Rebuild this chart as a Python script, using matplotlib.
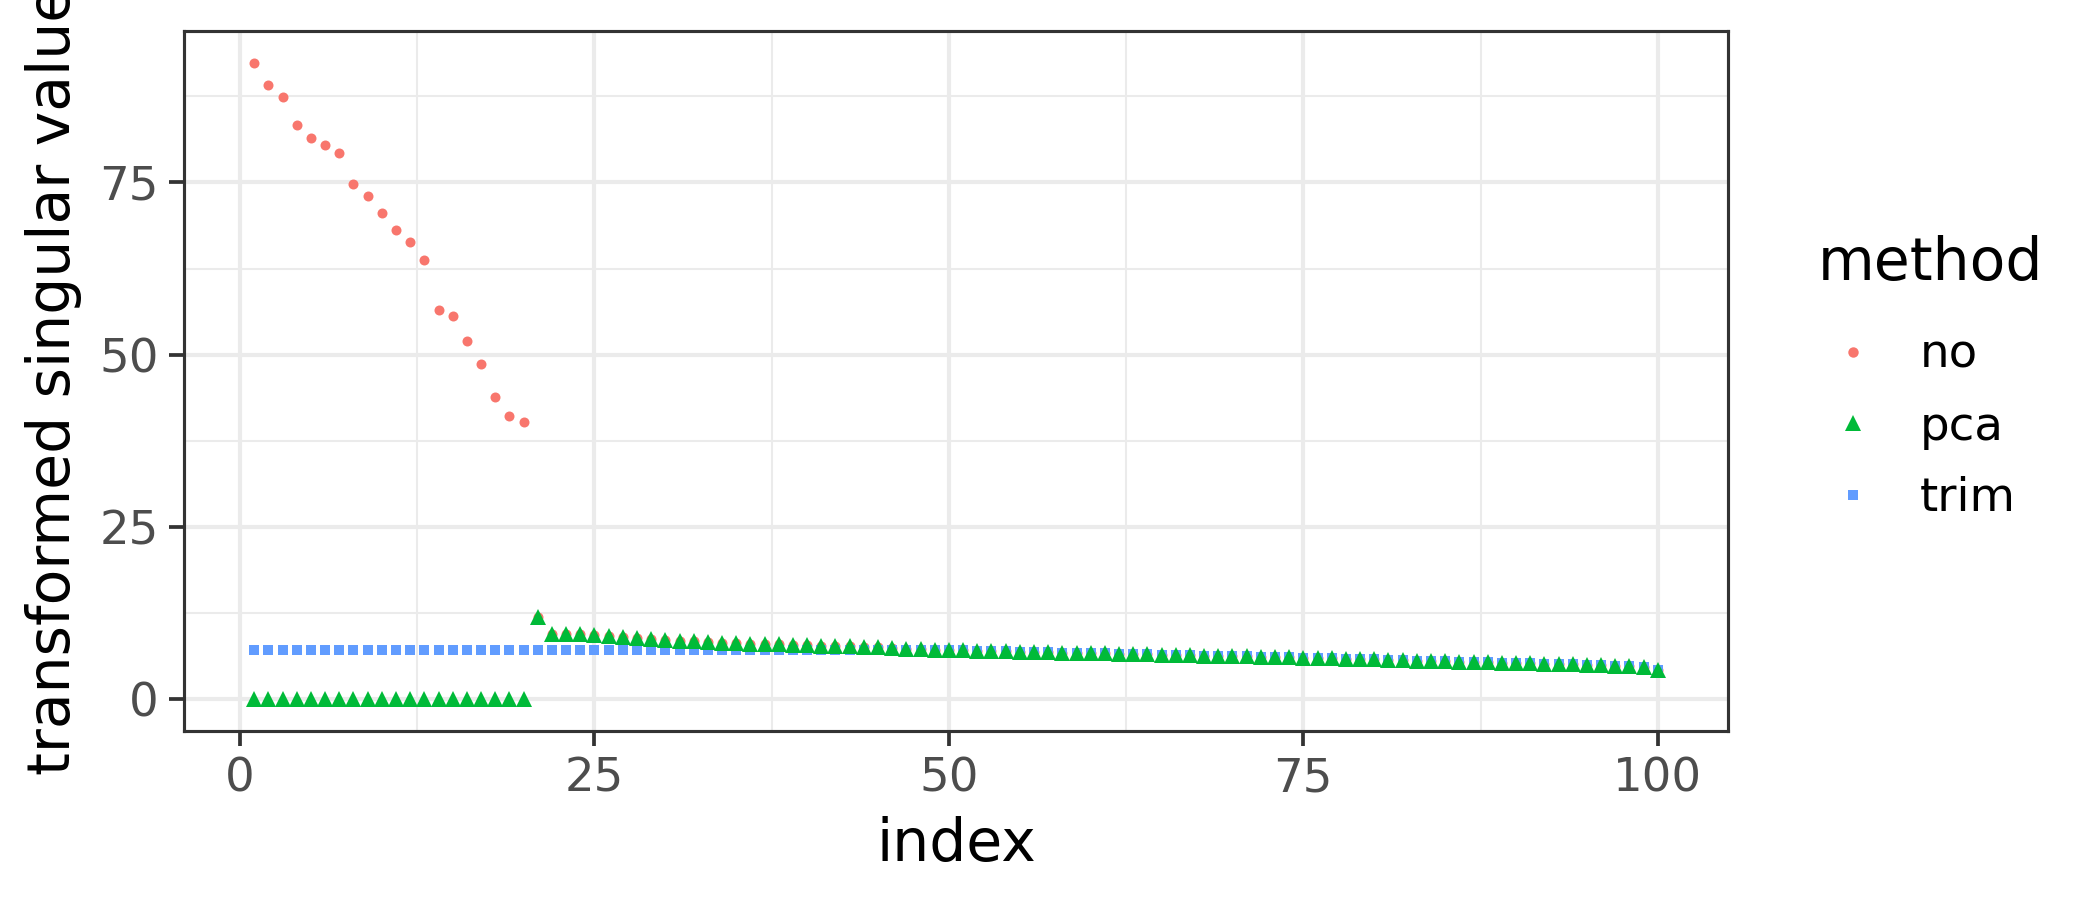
import matplotlib
matplotlib.use("Agg")
import matplotlib.pyplot as plt
from matplotlib.lines import Line2D

# ---- data ----
index = list(range(1, 101))

no_head = [92.4, 89.2, 87.4, 83.4, 81.5, 80.4, 79.3, 74.8, 73.0, 70.5,
           68.1, 66.3, 63.8, 56.5, 55.6, 52.0, 48.7, 43.8, 41.1, 40.2]

pca_tail = [11.9, 9.45, 9.45, 9.42, 9.35, 9.11, 8.97, 8.82, 8.72, 8.53,   # 21-30
            8.43, 8.38, 8.24, 8.19, 8.09, 8.05, 7.95, 7.95, 7.9, 7.85,    # 31-40
            7.78, 7.72, 7.65, 7.58, 7.5, 7.42, 7.35, 7.28, 7.2, 7.12,     # 41-50
            7.08, 7.03, 6.98, 6.94, 6.9, 6.85, 6.8, 6.76, 6.72, 6.68,     # 51-60
            6.63, 6.59, 6.55, 6.5, 6.46, 6.42, 6.37, 6.33, 6.28, 6.24,    # 61-70
            6.2, 6.15, 6.1, 6.05, 6.0, 5.96, 5.91, 5.86, 5.81, 5.76,      # 71-80
            5.71, 5.66, 5.61, 5.56, 5.51, 5.46, 5.4, 5.35, 5.32, 5.3,     # 81-90
            5.2, 5.15, 5.1, 5.05, 5.0, 4.95, 4.8, 4.75, 4.65, 4.3]        # 91-100

pca_head = [0.0] * 20
trim_head = [7.1] * 50

no_vals = no_head + pca_tail
pca_vals = pca_head + pca_tail
trim_vals = trim_head + pca_tail[30:]

methods = ["no", "pca", "trim"]
colors = {"no": "#F8766D", "pca": "#00BA38", "trim": "#619CFF"}

x_ticks = [0, 25, 50, 75, 100]
y_ticks = [0, 25, 50, 75]

# ---- figure ----
plt.rcParams["font.family"] = ["DejaVu Sans"]
fig = plt.figure(figsize=(7, 3), dpi=300)
ax = fig.add_axes([0.08762, 0.18778, 0.82286 - 0.08762, 0.96589 - 0.18778])

ms_circle = 2.4
ms_square = 2.35
ms_tri = 3.9

ax.plot(index, no_vals, linestyle="none", marker="o", ms=ms_circle,
        mew=0, color=colors["no"], zorder=3)
ax.plot(index, trim_vals, linestyle="none", marker="s", ms=ms_square,
        mew=0, color=colors["trim"], zorder=4)
ax.plot(index, pca_vals, linestyle="none", marker="^", ms=ms_tri,
        mew=0, color=colors["pca"], zorder=5)

xmin, xmax = 1, 100
xr = (xmax - xmin) * 0.05
ax.set_xlim(xmin - xr, xmax + xr)
ymin, ymax = 0.0, max(no_vals)
yr = (ymax - ymin) * 0.05
ax.set_ylim(ymin - yr, ymax + yr)

ax.set_xticks(x_ticks)
ax.set_yticks(y_ticks)
ax.set_xticks([12.5, 37.5, 62.5, 87.5], minor=True)
ax.set_yticks([12.5, 37.5, 62.5, 87.5], minor=True)

ax.grid(which="major", color="#EBEBEB", linewidth=1.0, zorder=0)
ax.grid(which="minor", color="#EBEBEB", linewidth=0.5, zorder=0)
ax.set_axisbelow(True)

for s in ax.spines.values():
    s.set_color("#333333")
    s.set_linewidth(0.75)

ax.tick_params(which="major", length=3.6, width=0.9, color="#333333",
               labelsize=11.2, labelcolor="#4D4D4D", pad=2.5)
ax.tick_params(which="minor", length=0)

ax.set_xlabel("index", fontsize=14, color="black", labelpad=3.5)
ax.set_ylabel("transformed singular value", fontsize=14, color="black", labelpad=4)

# legend: title as text, entries as a legend
fig.text(1818 / 2100, 1 - 280 / 900, "method", fontsize=14, color="black",
         ha="left", va="baseline")

handles = [
    Line2D([], [], linestyle="none", marker="o", ms=2.5, mew=0, color=colors["no"]),
    Line2D([], [], linestyle="none", marker="^", ms=3.9, mew=0, color=colors["pca"]),
    Line2D([], [], linestyle="none", marker="s", ms=2.4, mew=0, color=colors["trim"]),
]
leg = fig.legend(handles, methods, loc="upper left",
                 bbox_to_anchor=(0.8689, 0.630), frameon=False,
                 fontsize=11.2, borderpad=0, borderaxespad=0,
                 handlelength=1.2, handletextpad=0.84,
                 labelspacing=0.57)

fig.savefig("out.png", dpi=300, facecolor="white")
